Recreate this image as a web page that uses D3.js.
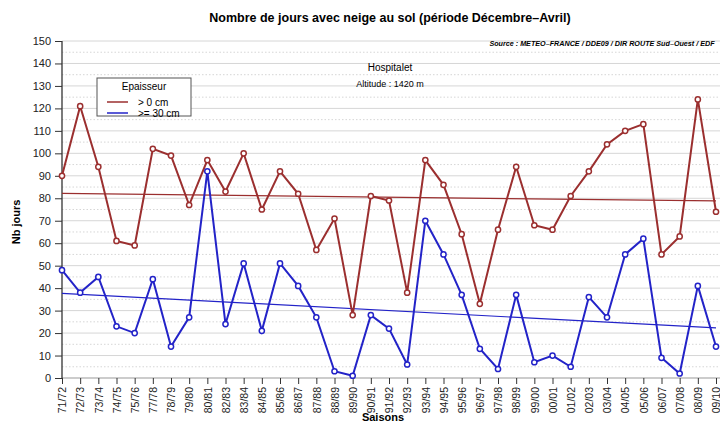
<!DOCTYPE html>
<html>
<head>
<meta charset="utf-8">
<script src="https://cdn.jsdelivr.net/npm/d3@7"></script>
<style>
  body { margin: 0; background: #fff; }
  text { font-family: "Liberation Sans", Arial, sans-serif; }
</style>
</head>
<body>
<div class="chart"></div>
<script>
// Saisons (76/77 et 81/82 absentes)
var saisons = ["71/72","72/73","73/74","74/75","75/76","77/78","78/79","79/80","80/81","82/83",
  "83/84","84/85","85/86","86/87","87/88","88/89","89/90","90/91","91/92","92/93",
  "93/94","94/95","95/96","96/97","97/98","98/99","99/00","00/01","01/02","02/03",
  "03/04","04/05","05/06","06/07","07/08","08/09","09/10"];

// Epaisseur > 0 cm
var neige0 = [90,121,94,61,59,102,99,77,97,83,
  100,75,92,82,57,71,28,81,79,38,
  97,86,64,33,66,94,68,66,81,92,
  104,110,113,55,63,124,74];

// Epaisseur >= 30 cm
var neige30 = [48,38,45,23,20,44,14,27,92,24,
  51,21,51,41,27,3,1,28,22,6,
  70,55,37,13,4,37,7,10,5,36,
  27,55,62,9,2,41,14];

// tendances (valeur debut, valeur fin)
var tendance0 = [82.2, 78.8];
var tendance30 = [37.7, 22.3];

var yTicks = d3.range(0, 151, 10);

var width = 720, height = 422;
var margin = { top: 41, right: 3, bottom: 44, left: 62 };
var rouge = "#9b2f2f", bleu = "#2323c8";

var svg = d3.select(".chart").append("svg")
  .attr("width", width)
  .attr("height", height);

var x = d3.scalePoint()
  .domain(saisons)
  .range([margin.left, 716]);

var y = d3.scaleLinear()
  .domain([0, 150])
  .range([height - margin.bottom, margin.top]);

// grille : lignes pleines aux dizaines, pointillees aux 5
svg.append("g").selectAll("line.g10")
  .data(yTicks.slice(1))
  .enter().append("line")
  .attr("x1", margin.left).attr("x2", width)
  .attr("y1", function(d) { return y(d); })
  .attr("y2", function(d) { return y(d); })
  .style("stroke", "#d6d6d6").style("stroke-width", 1);

svg.append("g").selectAll("line.g5")
  .data(d3.range(5, 150, 10))
  .enter().append("line")
  .attr("x1", margin.left).attr("x2", width)
  .attr("y1", function(d) { return y(d); })
  .attr("y2", function(d) { return y(d); })
  .style("stroke", "#d6d6d6").style("stroke-width", 1)
  .style("stroke-dasharray", "1.5,2");

// axe x
var xAxis = d3.axisBottom(x).tickSize(6).tickPadding(4);
var gx = svg.append("g")
  .attr("transform", "translate(0," + y(0) + ")")
  .call(xAxis);
gx.select(".domain").attr("d", "M" + margin.left + ",0H" + width).style("stroke", "#999");
gx.selectAll(".tick line").style("stroke", "#333");
gx.selectAll(".tick text")
  .attr("transform", "rotate(-90)")
  .attr("x", -9).attr("y", 0).attr("dy", "0.35em")
  .style("text-anchor", "end")
  .style("font-size", "10.5px")
  .style("fill", "#222");

// axe y
var yAxis = d3.axisLeft(y).tickValues(yTicks).tickSize(7).tickPadding(4);
var gy = svg.append("g")
  .attr("transform", "translate(" + margin.left + ",0)")
  .call(yAxis);
gy.select(".domain").attr("d", "M0," + y(0) + "V" + y(150)).style("stroke", "#333").style("stroke-width", 1.3);
gy.selectAll(".tick line").style("stroke", "#333");
gy.selectAll(".tick text").style("font-size", "11px").style("fill", "#222");

// droites de tendance
function tendance(t, couleur) {
  svg.append("line")
    .attr("x1", x(saisons[0])).attr("x2", x(saisons[saisons.length - 1]))
    .attr("y1", y(t[0])).attr("y2", y(t[1]))
    .style("stroke", couleur).style("stroke-width", 1.2);
}
tendance(tendance0, rouge);
tendance(tendance30, bleu);

// series
function serie(valeurs, couleur) {
  var line = d3.line()
    .x(function(d, i) { return x(saisons[i]); })
    .y(function(d) { return y(d); });
  svg.append("path")
    .datum(valeurs)
    .attr("d", line)
    .style("fill", "none")
    .style("stroke", couleur)
    .style("stroke-width", 2);
  svg.append("g").selectAll("circle")
    .data(valeurs)
    .enter().append("circle")
    .attr("cx", function(d, i) { return x(saisons[i]); })
    .attr("cy", function(d) { return y(d); })
    .attr("r", 2.6)
    .style("fill", "#fff")
    .style("stroke", couleur)
    .style("stroke-width", 1.5);
}
serie(neige0, rouge);
serie(neige30, bleu);

// titres
svg.append("text")
  .attr("x", 390).attr("y", 22)
  .attr("text-anchor", "middle")
  .style("font-size", "12.5px").style("font-weight", "bold")
  .text("Nombre de jours avec neige au sol (période Décembre–Avril)");

svg.append("text")
  .attr("x", 602).attr("y", 46)
  .attr("text-anchor", "middle")
  .style("font-size", "7.2px").style("font-weight", "bold").style("font-style", "italic")
  .text("Source : METEO–FRANCE / DDE09 / DIR ROUTE Sud–Ouest / EDF");

svg.append("text")
  .attr("x", 390).attr("y", 71)
  .attr("text-anchor", "middle")
  .style("font-size", "10px")
  .text("Hospitalet");

svg.append("text")
  .attr("x", 390).attr("y", 87)
  .attr("text-anchor", "middle")
  .style("font-size", "9px")
  .text("Altitude : 1420 m");

svg.append("text")
  .attr("transform", "translate(20," + 222 + ") rotate(-90)")
  .attr("text-anchor", "middle")
  .style("font-size", "11px").style("font-weight", "bold")
  .text("Nb jours");

svg.append("text")
  .attr("x", 383).attr("y", 421)
  .attr("text-anchor", "middle")
  .style("font-size", "11px").style("font-weight", "bold")
  .text("Saisons");

// legende
var leg = svg.append("g").attr("transform", "translate(97,78)");
leg.append("rect")
  .attr("width", 94).attr("height", 38)
  .style("fill", "#fff").style("stroke", "#555").style("stroke-width", 1);
leg.append("text").attr("x", 47).attr("y", 12).attr("text-anchor", "middle")
  .style("font-size", "10px").text("Epaisseur");
[["> 0 cm", rouge], [">= 30 cm", bleu]].forEach(function(d, i) {
  leg.append("line").attr("x1", 10).attr("x2", 31)
    .attr("y1", 24 + i * 11).attr("y2", 24 + i * 11)
    .style("stroke", d[1]).style("stroke-width", 1.5);
  leg.append("text").attr("x", 41).attr("y", 27.5 + i * 11)
    .style("font-size", "10px").text(d[0]);
});
</script>
</body>
</html>
